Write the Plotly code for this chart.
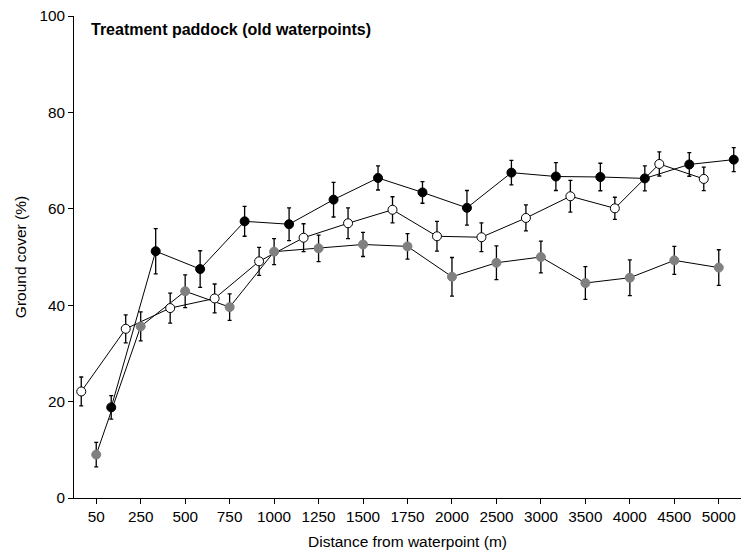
import plotly.graph_objects as go

categories = ["50", "250", "500", "750", "1000", "1250", "1500", "1750",
              "2000", "2500", "3000", "3500", "4000", "4500", "5000"]

open_vals = [22.1, 35.1, 39.4, 41.4, 49.1, 54.0, 57.0, 59.8, 54.3, 54.1, 58.1, 62.6, 60.1, 69.3, 66.2]
open_err = [3.0, 2.9, 3.1, 3.0, 2.9, 2.9, 3.2, 2.7, 3.1, 3.0, 2.7, 3.3, 2.3, 2.5, 2.45]

grey_vals = [9.0, 35.6, 42.9, 39.6, 51.1, 51.8, 52.6, 52.2, 45.9, 48.8, 50.0, 44.6, 45.7, 49.3, 47.8]
grey_err = [2.55, 3.0, 3.4, 2.75, 2.7, 2.75, 2.5, 2.65, 4.0, 3.5, 3.3, 3.4, 3.7, 2.9, 3.7]

black_vals = [18.8, 51.2, 47.5, 57.4, 56.8, 61.9, 66.4, 63.4, 60.2, 67.5, 66.7, 66.6, 66.3, 69.2, 70.2]
black_err = [2.45, 4.7, 3.8, 3.1, 3.4, 3.6, 2.5, 2.25, 3.6, 2.55, 2.9, 2.85, 2.6, 2.45, 2.5]

offset = 0.337
idx = list(range(len(categories)))
x_open = [i - offset for i in idx]
x_grey = [i for i in idx]
x_black = [i + offset for i in idx]

FONT = "Arial, Liberation Sans, sans-serif"
series = [
    (x_black, black_vals, black_err, "black", "black"),
    (x_grey, grey_vals, grey_err, "#808080", "#808080"),
    (x_open, open_vals, open_err, "white", "black"),
]

fig = go.Figure()
for xs, ys, es, fill, edge in series:
    fig.add_trace(go.Scatter(x=xs, y=ys, mode="lines",
                             line=dict(color="black", width=1),
                             hoverinfo="skip", showlegend=False))
for xs, ys, es, fill, edge in series:
    fig.add_trace(go.Scatter(
        x=xs, y=ys, mode="markers",
        marker=dict(size=9, color=fill, line=dict(color=edge, width=1)),
        error_y=dict(type="data", array=es, visible=True, color="black",
                     thickness=1.3, width=2),
        showlegend=False))

fig.add_annotation(text="<b>Treatment paddock (old waterpoints)</b>",
                   xref="paper", yref="paper", x=0.023, y=0.971,
                   xanchor="left", yanchor="middle", showarrow=False,
                   font=dict(family=FONT, size=16, color="black"))

fig.update_layout(
    width=742, height=555,
    margin=dict(l=74, r=1, t=16, b=57, autoexpand=False),
    paper_bgcolor="white", plot_bgcolor="white",
    font=dict(family=FONT, size=15, color="black"),
    xaxis=dict(range=[-0.5, 14.5], tickmode="array", tickvals=idx, ticktext=categories,
               showgrid=False, zeroline=False, showline=True, linecolor="black",
               linewidth=1, ticks="outside", ticklen=5, tickwidth=1, tickcolor="black",
               tickfont=dict(family=FONT, size=15.3, color="black"),
               title=dict(text="Distance from waterpoint (m)",
                          font=dict(family=FONT, size=15.5, color="black"), standoff=11)),
    yaxis=dict(range=[0, 100], tickvals=[0, 20, 40, 60, 80, 100],
               showgrid=False, zeroline=False, showline=True, linecolor="black",
               linewidth=1, ticks="outside", ticklen=5, tickwidth=1, tickcolor="black",
               tickfont=dict(family=FONT, size=15.3, color="black"),
               title=dict(text="Ground cover (%)",
                          font=dict(family=FONT, size=15.5, color="black"), standoff=8)),
)

fig.write_html("out.html", config={"displayModeBar": False})
